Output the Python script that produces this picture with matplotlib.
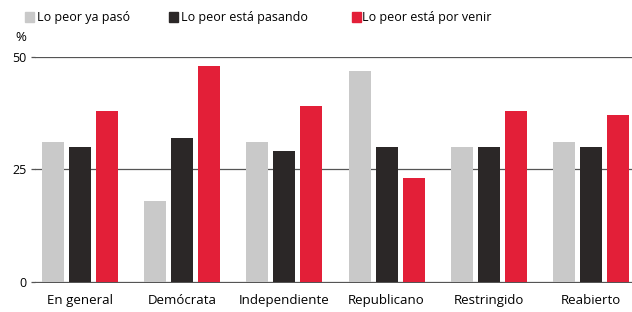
import numpy as np
import matplotlib.pyplot as plt
from matplotlib.patches import Rectangle

# Datos
categorias = ["En general", "Demócrata", "Independiente", "Republicano", "Restringido", "Reabierto"]
series = ["Lo peor ya pasó", "Lo peor está pasando", "Lo peor está por venir"]
ya_paso = [31, 18, 31, 47, 30, 31]
pasando = [30, 32, 29, 30, 30, 30]
por_venir = [38, 48, 39, 23, 38, 37]
yticks = [0, 25, 50]

colores = ["#c9c9c9", "#2b2727", "#e31f38"]

plt.rcParams['font.family'] = ['Open Sans', 'DejaVu Sans']

fig = plt.figure(figsize=(6.32, 3.12), dpi=100)
ax = fig.add_axes([0.055, 0.093, 0.945, 0.724])

x = np.arange(len(categorias))
ancho = 0.215
paso = 0.264
for k, (vals, col) in enumerate(zip([ya_paso, pasando, por_venir], colores)):
    ax.bar(x + (k - 1) * paso, vals, width=ancho, color=col, zorder=3)

# Estética
ax.set_ylim(-0.3, 50)
ax.set_xlim(-0.44, 5.4)
for s in ax.spines.values():
    s.set_visible(False)
ax.set_yticks(yticks)
ax.set_yticklabels([str(v) for v in yticks], fontsize=9)
ax.tick_params(axis='y', length=3, width=0.9, color="#555555", pad=3)
ax.yaxis.grid(True, color="#555555", lw=0.9, zorder=1)
ax.set_xticks(x)
ax.set_xticklabels(categorias, fontsize=9.5)
ax.tick_params(axis='x', length=0, pad=8)

fig.text(0.024, 0.88, "%", fontsize=9.5, ha="left", va="center")

# Leyenda manual
pos_cuadro = [0.040, 0.267, 0.557]
pos_texto = [0.0585, 0.286, 0.573]
for px, tx, col, lab in zip(pos_cuadro, pos_texto, colores, series):
    fig.patches.append(Rectangle((px, 0.929), 0.0145, 0.032, transform=fig.transFigure,
                                 color=col, figure=fig))
    fig.text(tx, 0.945, lab, fontsize=9, ha="left", va="center")

fig.savefig("out.png", dpi=100)
